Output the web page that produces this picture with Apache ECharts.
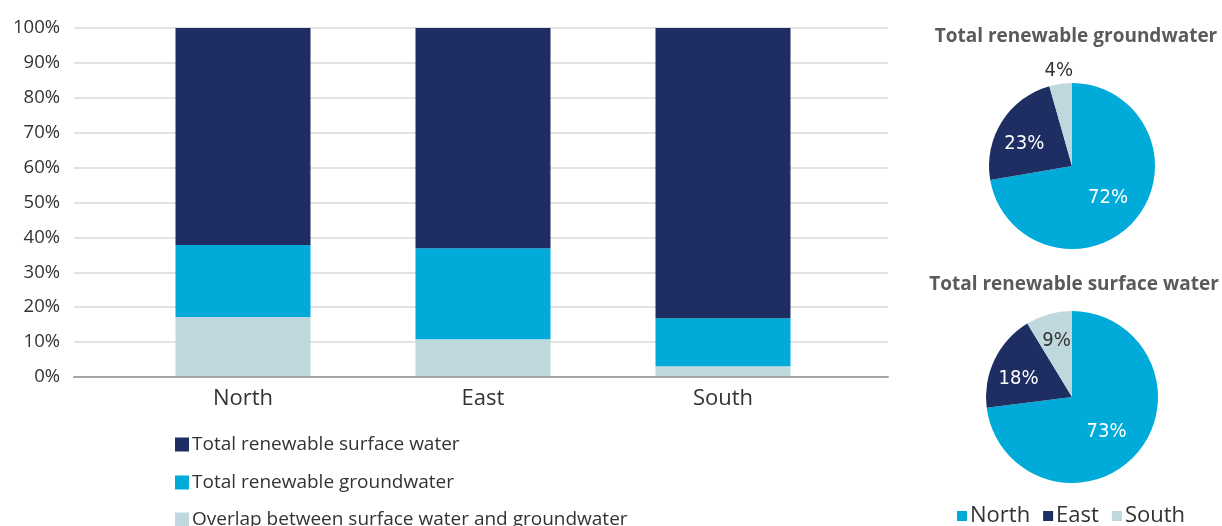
<!DOCTYPE html>
<html><head><meta charset="utf-8">
<script src="https://cdn.jsdelivr.net/npm/echarts@6/dist/echarts.min.js"></script>
<style>html,body{margin:0;padding:0;background:#fff}#c{width:1222px;height:526px}</style>
</head><body><div id="c"></div>
<script>
var categories = ['North', 'East', 'South'];
var overlap = [17.2, 10.8, 3.1];
var groundwaterOnly = [20.6, 26.1, 13.7];
var surfaceOnly = [62.2, 63.1, 83.2];
var yTicks = [0, 10, 20, 30, 40, 50, 60, 70, 80, 90, 100];
var regions = ['North', 'East', 'South'];
var groundwaterShare = [72.3, 23.3, 4.4];
var surfaceShare = [73.0, 18.3, 8.7];
var seriesNames = ['Overlap between surface water and groundwater', 'Total renewable groundwater', 'Total renewable surface water'];

var NAVY = '#1e2d62', CYAN = '#00abd9', LIGHT = '#bfd8dd';
var regionColors = [CYAN, NAVY, LIGHT];
var FONT = 'Open Sans';
var NUMFONT = 'DejaVu Sans Condensed';

function pieData(vals, eastOffset, southOffset) {
  return regions.map(function (r, i) {
    var d = { name: r, value: vals[i], itemStyle: { color: regionColors[i] } };
    if (i === 1) {
      d.label = { offset: eastOffset };
    }
    if (i === 2) {
      d.label = { color: '#333', offset: southOffset };
    }
    return d;
  });
}

function legendItem(name, top) {
  return { data: [name], orient: 'vertical', left: 170, top: top,
    itemWidth: 14, itemHeight: 14, icon: 'rect',
    textStyle: { fontFamily: FONT, fontSize: 19, color: '#333', padding: [0, 0, 0, -2] } };
}

var chart = echarts.init(document.getElementById('c'));
var option = {
  animation: false,
  textStyle: { fontFamily: FONT },
  title: [
    { text: 'Total renewable groundwater', left: 1071, top: 22, textAlign: 'center',
      textStyle: { fontFamily: FONT, fontSize: 19, fontWeight: 'bold', color: '#5a5a5a' } },
    { text: 'Total renewable surface water', left: 1069, top: 270, textAlign: 'center',
      textStyle: { fontFamily: FONT, fontSize: 19, fontWeight: 'bold', color: '#5a5a5a' } }
  ],
  legend: [
    legendItem(seriesNames[2], 430),
    legendItem(seriesNames[1], 468),
    legendItem(seriesNames[0], 505),
    { data: regions, orient: 'horizontal', left: 952, top: 500,
      itemWidth: 10, itemHeight: 10, itemGap: 13, icon: 'rect',
      textStyle: { fontFamily: FONT, fontSize: 22, color: '#333', padding: [0, 0, 0, -2] } }
  ],
  grid: [
    { left: 74, right: 334, top: 28, bottom: 149 },
    { left: 123, right: 379, top: 28, bottom: 149 }
  ],
  xAxis: [
    { gridIndex: 0, type: 'category', data: [''], axisLine: { show: true, lineStyle: { color: '#a6a6a6', width: 2 } },
      axisTick: { show: false }, axisLabel: { show: false }, z: 5 },
    { gridIndex: 1, type: 'category', data: categories, axisLine: { show: false }, axisTick: { show: false },
      axisLabel: { fontFamily: FONT, fontSize: 22, color: '#333', margin: 11 } }
  ],
  yAxis: [
    { gridIndex: 0, type: 'value', min: yTicks[0], max: yTicks[yTicks.length - 1], interval: yTicks[1] - yTicks[0],
      axisLine: { show: false }, axisTick: { show: false },
      axisLabel: { formatter: '{value}%', fontFamily: FONT, fontSize: 18.5, color: '#333', margin: 14 },
      splitLine: { lineStyle: { color: '#d9d9d9', width: 1.5 } } },
    { gridIndex: 1, type: 'value', min: 0, max: 100, show: false, splitLine: { show: false } }
  ],
  series: [
    { name: seriesNames[0], type: 'bar', xAxisIndex: 1, yAxisIndex: 1, stack: 's', barWidth: 135,
      data: overlap, itemStyle: { color: LIGHT } },
    { name: seriesNames[1], type: 'bar', xAxisIndex: 1, yAxisIndex: 1, stack: 's', barWidth: 135,
      data: groundwaterOnly, itemStyle: { color: CYAN } },
    { name: seriesNames[2], type: 'bar', xAxisIndex: 1, yAxisIndex: 1, stack: 's', barWidth: 135,
      data: surfaceOnly, itemStyle: { color: NAVY } },
    { type: 'pie', center: [1072, 166], radius: 83, startAngle: 90, clockwise: true,
      data: pieData(groundwaterShare, [-10, 2], [-7, -51]),
      label: { position: 'inside', color: '#fff', fontFamily: NUMFONT, fontSize: 20, offset: [2, 3],
        formatter: function (p) { return Math.round(p.value) + '%'; } },
      labelLine: { show: false }, emphasis: { disabled: true } },
    { type: 'pie', center: [1072, 397], radius: 86, startAngle: 90, clockwise: true,
      data: pieData(surfaceShare, [-12, 2], [-3, -12]),
      label: { position: 'inside', color: '#fff', fontFamily: NUMFONT, fontSize: 20, offset: [0, 4],
        formatter: function (p) { return Math.round(p.value) + '%'; } },
      labelLine: { show: false }, emphasis: { disabled: true } }
  ]
};
chart.setOption(option);
</script>
</body></html>
